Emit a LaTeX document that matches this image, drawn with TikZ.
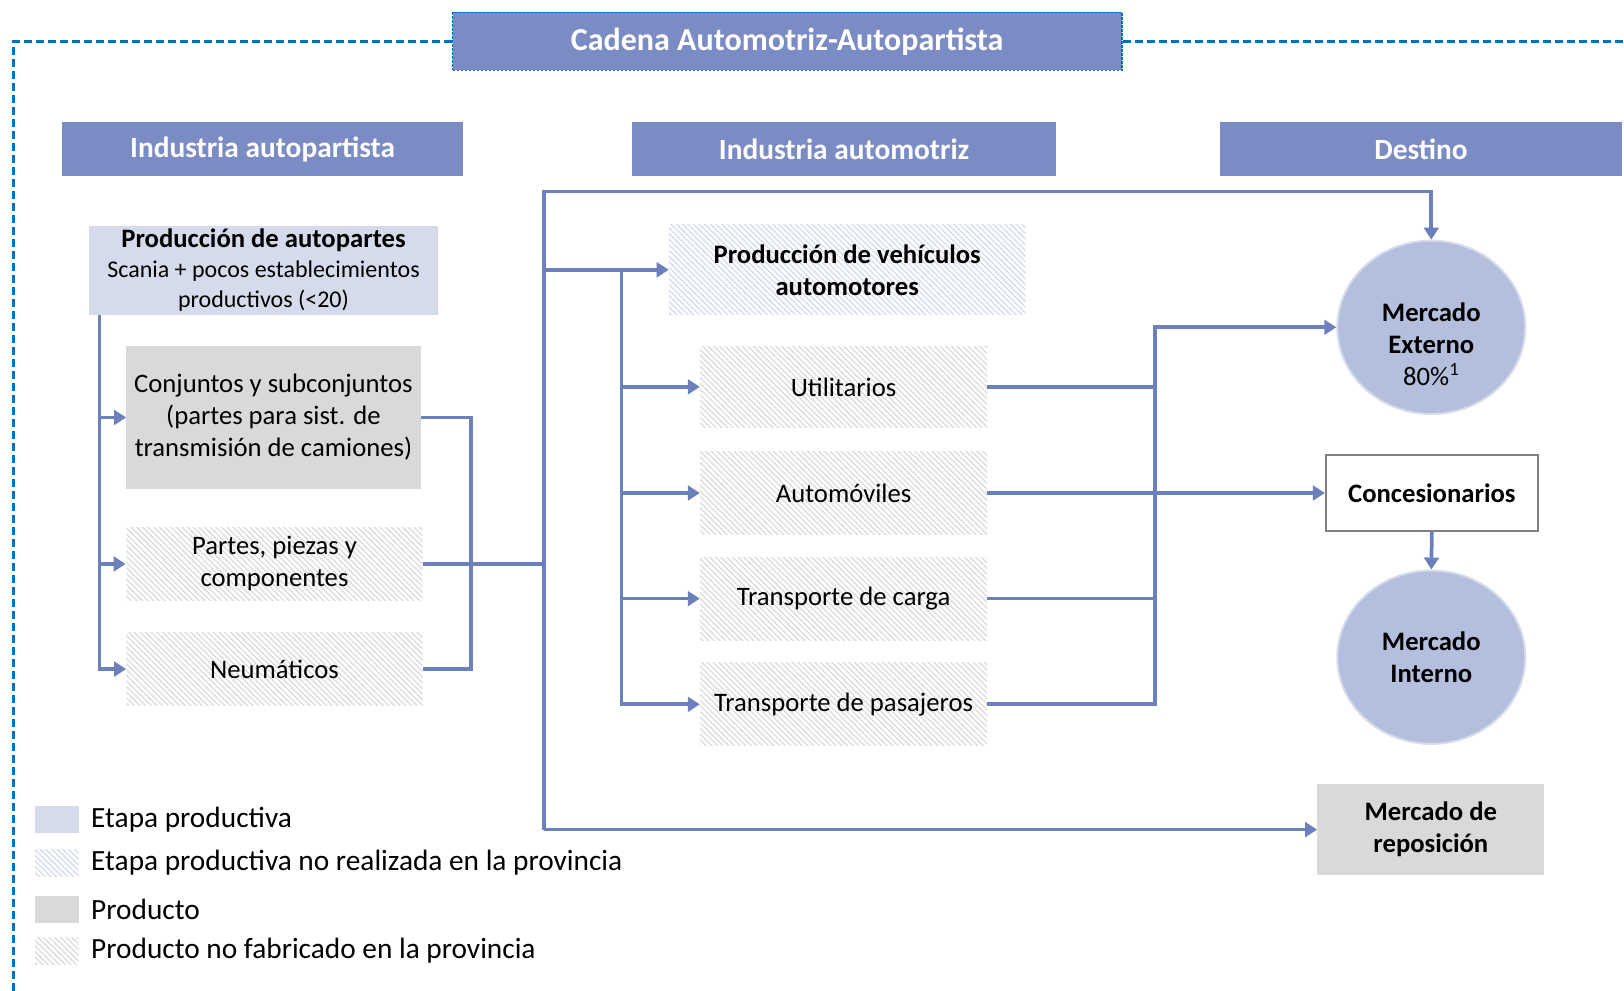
\documentclass[tikz,border=0pt]{standalone}
\usepackage{fontspec}
\setmainfont{Carlito}
\usetikzlibrary{arrows.meta,patterns.meta,shapes.geometric}
\definecolor{hdr}{HTML}{7B8BC4}
\definecolor{stage}{HTML}{D5DBEB}
\definecolor{linkc}{HTML}{6C80BC}
\definecolor{prod}{HTML}{D9D9D9}
\definecolor{ell}{HTML}{B4BFDD}
\definecolor{frameblue}{HTML}{0070C0}
\definecolor{hatchgray}{HTML}{DEDEDE}
\definecolor{hatchblue}{HTML}{D8DEEF}
\begin{document}
\begin{tikzpicture}[x=0.75pt,y=-0.75pt,
  corners/.style n args={4}{minimum width={(#3-#1)*0.75pt}, minimum height={(#4-#2)*0.75pt},
     at={({(#1+#3)/2},{(#2+#4)/2})}},
  box/.style={inner sep=0pt, align=center, font=\fontsize{20}{24}\selectfont},
  hdrbox/.style={box, fill=hdr, text=white, font=\fontsize{22}{26}\selectfont\bfseries},
  stagebox/.style={box, fill=stage},
  prodbox/.style={box, fill=prod},
  hgray/.style={box, pattern={Lines[angle=-45,distance=3pt,line width=1.1pt]}, pattern color=hatchgray},
  hblue/.style={box, pattern={Lines[angle=-45,distance=3pt,line width=1.1pt]}, pattern color=hatchblue},
  market/.style={ellipse, inner sep=0pt, align=center, fill=ell, draw=ell!55!white, line width=1.5pt,
     minimum width=141pt, minimum height=130pt, font=\fontsize{20}{24}\selectfont\bfseries},
  link/.style={draw=linkc, line width=2.8pt},
  arr/.style={link, -{Triangle[length=9pt,width=11pt]}},
  frameline/.style={draw=frameblue, line width=2pt, dash pattern=on 6pt off 3pt},
  legtext/.style={inner sep=0pt, anchor=west, font=\fontsize{22}{26}\selectfont},
]
\useasboundingbox (0,0) rectangle (1624,990);

% title and frame
\node[hdrbox, font=\fontsize{24}{28}\selectfont\bfseries, draw=frameblue, line width=1.2pt,
      dash pattern=on 2pt off 1pt, corners={452.6}{12.4}{1121.7}{70.4}] (title) {Cadena Automotriz-Autopartista};
\coordinate (fTL) at (13.5,41.4);
\coordinate (fBL) at (13.5,995);
\coordinate (fTR) at (1630,41.4);
\draw[frameline] (title.west) -- (fTL) -- (fBL);
\draw[frameline] (title.east) -- (fTR);

% headers
\node[hdrbox, corners={62.1}{122.2}{463}{176.1}] (h1) {Industria autopartista};
\node[hdrbox, corners={631.8}{122.2}{1056.4}{176.1}] (h2) {Industria automotriz};
\node[hdrbox, corners={1220}{122.2}{1622}{176.1}] (h3) {Destino};

% autopartes column
\node[stagebox, font=\fontsize{18}{22.5}\selectfont, corners={89}{225.8}{438}{314.9}] (pa)
  {{\fontsize{20}{22.5}\selectfont\bfseries Producción de autopartes}\\Scania + pocos establecimientos\\productivos (<20)};
\node[prodbox, corners={126.4}{346}{420.5}{488.9}] (cj) {Conjuntos y subconjuntos\\(partes para sist. de\\transmisión de camiones)};
\node[hgray, corners={126.4}{527.2}{422.6}{600.7}] (pp) {Partes, piezas y\\componentes};
\node[hgray, corners={126.4}{632.8}{422.6}{705.3}] (nm) {Neumáticos};

% automotriz column
\node[hblue, font=\fontsize{20}{24}\selectfont\bfseries, corners={669}{224.7}{1025.4}{314.9}] (pv) {Producción de vehículos\\automotores};
\node[hgray, corners={700.1}{346}{987}{427.7}] (ut) {Utilitarios};
\node[hgray, corners={700.1}{451.6}{987}{534.4}] (au) {Automóviles};
\node[hgray, corners={700.1}{557.2}{987}{640}] (tc) {Transporte de carga};
\node[hgray, corners={700.1}{662.9}{987}{745.7}] (tp) {Transporte de pasajeros};

% destino column
\node[market] (me) at (1431.3,327.3)
  {\raisebox{-20pt}[0pt][0pt]{\begin{tabular}{@{}c@{}}Mercado\\Externo\\{\mdseries 80\%\textsuperscript{1}}\end{tabular}}};
\node[box, font=\fontsize{20}{24}\selectfont\bfseries, fill=white, draw=black!50, line width=1.2pt,
      corners={1325.7}{455}{1538}{531}] (cs) {Concesionarios};
\node[market] (mi) at (1431.3,657.2) {Mercado\\Interno};
\node[prodbox, font=\fontsize{20}{24}\selectfont\bfseries, corners={1317.4}{784}{1544.2}{875.2}] (mr) {Mercado de\\reposición};

% connector helper x positions
\coordinate (lvx) at (99.4,0);
\coordinate (rbx) at (471.3,0);
\coordinate (tx) at (543.7,0);
\coordinate (ttop) at (543.7,191.6);
\coordinate (sx) at (621.4,0);
\coordinate (bx) at (1154.8,0);

% left connectors
\draw[arr] (pa.south -| lvx) |- (nm.west);
\draw[arr] (cj.west -| lvx) -- (cj.west);
\draw[arr] (pp.west -| lvx) -- (pp.west);
\draw[link] (cj.east) -- (cj.east -| rbx) -- (nm.east -| rbx) -- (nm.east);
\draw[link] (pp.east) -- (pp.east -| tx);

% trunk
\draw[arr] (mr.west -| tx) -- (ttop) -| (me.north);
\draw[arr] (tx |- mr.west) -- (mr.west);
\draw[arr] (pv.west -| tx) -- (pv.west);
\draw[arr] (pv.west -| sx) |- (tp.west);
\draw[arr] (ut.west -| sx) -- (ut.west);
\draw[arr] (au.west -| sx) -- (au.west);
\draw[arr] (tc.west -| sx) -- (tc.west);

% right bracket
\draw[arr] (tp.east) -| (me.west -| bx) -- (me.west);
\draw[link] (ut.east) -- (ut.east -| bx);
\draw[link] (tc.east) -- (tc.east -| bx);
\draw[arr] (au.east) -- (au.east -| cs.west);
\draw[arr] (cs.south) -- (mi.north);

% legend
\node[stagebox, corners={35.2}{805.8}{78.7}{832.7}] (lg1) {};
\node[hblue, corners={35.2}{849.3}{78.7}{876.2}] (lg2) {};
\node[prodbox, corners={35.2}{895.9}{78.7}{922.8}] (lg3) {};
\node[hgray, corners={35.2}{937.3}{78.7}{964.2}] (lg4) {};
\node[legtext] (lt1) at ([xshift=9pt]lg1.east) {Etapa productiva};
\node[legtext] (lt2) at ([xshift=9pt]lg2.east) {Etapa productiva no realizada en la provincia};
\node[legtext] (lt3) at ([xshift=9pt]lg3.east) {Producto};
\node[legtext] (lt4) at ([xshift=9pt]lg4.east) {Producto no fabricado en la provincia};
\end{tikzpicture}
\end{document}
